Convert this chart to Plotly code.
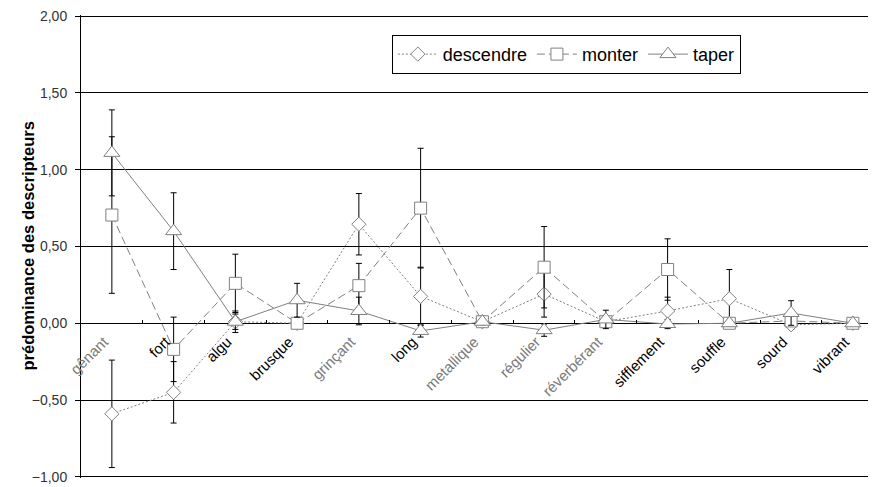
import plotly.graph_objects as go

categories = ["gênant", "fort", "algu", "brusque", "grinçant", "long", "metallique",
              "régulier", "réverbérant", "sifflement", "souffle", "sourd", "vibrant"]
gray_labels = ["gênant", "grinçant", "metallique", "régulier", "réverbérant"]

descendre = [-0.59, -0.45, 0.01, 0.00, 0.645, 0.175, 0.01, 0.19, 0.01, 0.08, 0.16, -0.01, 0.00]
descendre_err = [0.35, 0.20, 0.05, 0.02, 0.20, 0.19, 0.02, 0.15, 0.02, 0.09, 0.19, 0.03, 0.01]
monter = [0.705, -0.17, 0.26, 0.00, 0.245, 0.75, 0.01, 0.365, 0.01, 0.35, 0.00, 0.015, 0.00]
monter_err = [0.51, 0.21, 0.19, 0.03, 0.145, 0.39, 0.02, 0.265, 0.02, 0.20, 0.02, 0.02, 0.01]
taper = [1.11, 0.60, 0.01, 0.15, 0.08, -0.05, 0.01, -0.045, 0.025, -0.005, 0.00, 0.067, 0.00]
taper_err = [0.28, 0.25, 0.07, 0.11, 0.09, 0.04, 0.02, 0.04, 0.06, 0.03, 0.02, 0.08, 0.01]

y_ticks = [-1.0, -0.5, 0.0, 0.5, 1.0, 1.5, 2.0]

FONT = "Liberation Sans, Arial, sans-serif"
LINE_GRAY = "#808080"

def make_trace(name, values, errs, symbol, size, dash):
    return go.Scatter(
        x=categories, y=values, name=name, mode="lines+markers",
        line=dict(color=LINE_GRAY, width=1, dash=dash),
        marker=dict(symbol=symbol, size=size, color="white",
                    line=dict(color=LINE_GRAY, width=1)),
        error_y=dict(type="data", array=errs, visible=True,
                     color="black", thickness=1, width=3),
        cliponaxis=False,
    )

fig = go.Figure()
fig.add_trace(make_trace("descendre", descendre, descendre_err, "diamond", 11, "2px,2px"))
fig.add_trace(make_trace("monter", monter, monter_err, "square", 12, "8px,4px"))
fig.add_trace(make_trace("taper", taper, taper_err, "triangle-up", 14, "solid"))

ticktext = []
for c in categories:
    if c in gray_labels:
        ticktext.append(f"<span style='color:#7a7a7a'>{c}</span>")
    else:
        ticktext.append(c)

pad = 0.008
y_lo, y_hi = -1.0 - pad, 2.0 + pad
zero_frac = (0 - y_lo) / (y_hi - y_lo)

fig.update_layout(
    width=868, height=479,
    margin=dict(l=73, r=0, t=7, b=9),
    paper_bgcolor="white", plot_bgcolor="white",
    separators=", ",
    font=dict(family=FONT, color="black", size=13),
    showlegend=True,
    legend=dict(
        orientation="h", x=0.391, y=0.957, xanchor="left", yanchor="top",
        bordercolor="black", borderwidth=1, bgcolor="white",
        font=dict(family=FONT, size=18, color="black"),
        itemwidth=40, tracegroupgap=0,
    ),
    xaxis=dict(
        type="category", range=[-0.5, 12.375],
        anchor="free", position=zero_frac,
        showline=False,
        ticks="inside", ticklen=3, tickcolor="black", tickson="boundaries",
        tickmode="array", tickvals=categories, ticktext=ticktext,
        tickangle=-45, tickfont=dict(family=FONT, size=15, color="black"),
        ticklabelshift=-8, ticklabelstandoff=6,
        showgrid=False, zeroline=False, automargin=False,
    ),
    yaxis=dict(
        range=[y_lo, y_hi], tickmode="array", tickvals=y_ticks, tickformat=".2f",
        showgrid=True, gridcolor="black", gridwidth=1,
        zeroline=False,
        showline=True, linecolor="black", linewidth=1,
        ticks="outside", ticklen=5, tickcolor="black",
        ticklabelstandoff=5, ticklabeloverflow="allow",
        tickfont=dict(family=FONT, size=14, color="#333333"),
        automargin=False,
    ),
    annotations=[dict(
        text="prédominance des descripteurs", xref="paper", yref="paper",
        x=(27 - 81) / 795, y=0.5, xanchor="center", yanchor="middle",
        textangle=-90, showarrow=False,
        font=dict(family=FONT, size=16.5, color="black", weight="bold"),
    )],
)

fig.write_html("out.html")
